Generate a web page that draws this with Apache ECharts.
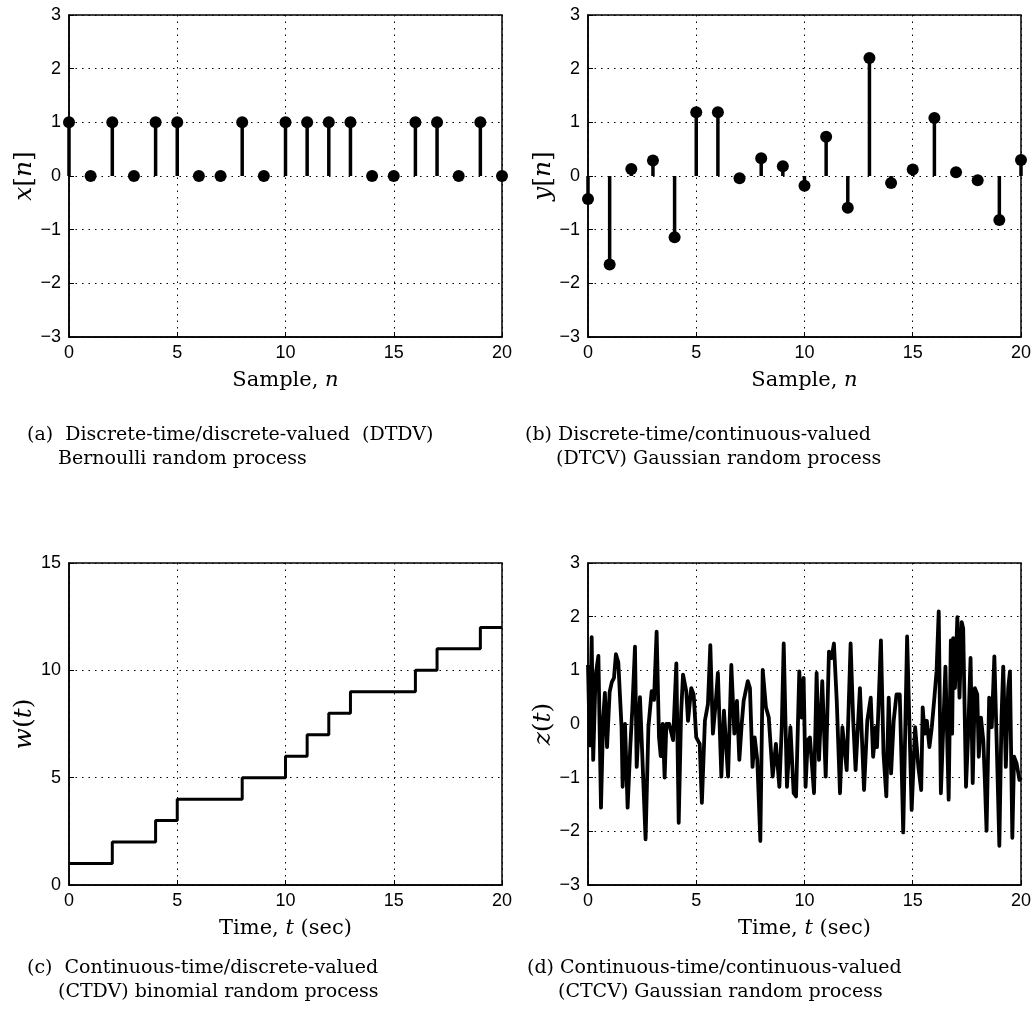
<!DOCTYPE html>
<html><head><meta charset="utf-8">
<script src="https://cdn.jsdelivr.net/npm/echarts@6/dist/echarts.min.js"></script>
<style>html,body{margin:0;padding:0;background:#fff}#c{width:1034px;height:1034px}</style>
</head><body><div id="c"></div>
<script>
// Panel (a): Bernoulli DTDV
const nSamples = [0,1,2,3,4,5,6,7,8,9,10,11,12,13,14,15,16,17,18,19,20];
const xVals = [1,0,1,0,1,1,0,0,1,0,1,1,1,1,0,0,1,1,0,1,0];
// Panel (b): Gaussian DTCV
const yVals = [-0.43,-1.65,0.13,0.29,-1.14,1.19,1.19,-0.04,0.33,0.18,-0.18,0.73,-0.59,2.2,-0.13,0.12,1.08,0.07,-0.08,-0.82,0.3];
// Panel (c): binomial CTDV (step times and levels)
const wTimes = [0,2,4,5,8,10,11,12,13,16,17,19,20];
const wVals  = [1,2,3,4,5,6,7,8,9,10,11,12,12];
// Panel (d): Gaussian CTCV (traced turning points)
const zTimes = [
0,0.08,0.17,0.24,0.35,0.48,0.6,0.7,0.78,0.88,
1.0,1.1,1.2,1.29,1.4,1.55,1.6,1.71,1.83,1.95,
2.05,2.17,2.25,2.4,2.5,2.66,2.79,2.94,3.05,3.17,
3.28,3.36,3.45,3.54,3.62,3.75,3.93,4.08,4.19,4.3,
4.39,4.54,4.62,4.77,4.88,5.0,5.16,5.26,5.4,5.54,
5.65,5.77,5.9,6.0,6.16,6.28,6.47,6.62,6.76,6.88,
6.99,7.1,7.19,7.38,7.48,7.6,7.7,7.82,7.96,8.07,
8.22,8.35,8.53,8.68,8.84,8.95,9.04,9.19,9.35,9.5,
9.61,9.76,9.87,9.96,10.05,10.15,10.25,10.44,10.56,10.67,
10.82,10.98,11.13,11.25,11.36,11.49,11.64,11.75,11.95,12.13,
12.25,12.36,12.56,12.75,12.9,13.06,13.17,13.29,13.35,13.53,
13.65,13.78,13.89,14.0,14.12,14.25,14.4,14.48,14.56,14.74,
14.85,14.95,15.11,15.26,15.39,15.46,15.55,15.65,15.77,15.88,
16.0,16.1,16.2,16.3,16.42,16.51,16.66,16.76,16.82,16.87,
16.95,17.06,17.16,17.26,17.33,17.46,17.56,17.67,17.77,17.87,
17.98,18.05,18.15,18.26,18.33,18.41,18.53,18.65,18.77,18.88,
19.0,19.1,19.18,19.3,19.41,19.49,19.6,19.68,19.8,19.93,
20.0];
const zVals = [
1.1,-0.4,1.62,-0.67,0.9,1.27,-1.56,0.1,0.58,-0.43,
0.6,0.78,0.86,1.3,1.15,-0.06,-1.17,0.0,-1.56,-0.45,
0.3,1.44,-0.8,0.5,-0.5,-2.15,-0.06,0.61,0.45,1.72,
-0.25,-0.6,0.0,-1.0,0.0,0.0,-0.3,1.13,-1.84,0.2,
0.92,0.61,0.06,0.67,0.55,-0.25,-0.37,-1.47,0.06,0.37,
1.47,-0.18,0.4,0.95,-0.98,0.25,-0.98,1.1,-0.18,0.43,
-0.67,0.0,0.43,0.8,0.67,-0.8,-0.25,-0.67,-2.18,1.01,
0.31,0.12,-0.98,-0.37,-1.17,-0.06,1.5,-1.17,-0.06,-1.29,
-1.35,0.98,0.12,0.86,-1.17,-0.3,-0.25,-1.29,0.95,-0.67,
0.8,-0.98,1.35,1.23,1.5,0.43,-1.29,-0.06,-0.86,1.5,
0.06,-0.86,0.67,-1.23,0.06,0.49,-0.61,-0.06,-0.43,1.56,
-0.55,-1.35,0.49,-0.92,0.06,0.55,0.55,-0.67,-2.02,1.63,
-0.06,-1.6,-0.06,-0.8,-1.23,0.31,-0.18,0.06,-0.43,-0.06,
0.49,0.98,2.1,-1.29,0.06,1.07,-1.41,1.56,-0.18,1.6,
0.67,1.99,0.49,1.9,1.78,-1.17,-0.18,1.23,-1.1,0.67,
0.55,-0.61,0.12,-0.31,-1.04,-1.99,0.49,-0.06,1.26,-0.37,
-2.27,0.12,1.07,-0.8,0.67,0.98,-2.12,-0.61,-0.74,-1.04,
-1.0];
// Tick definitions
const xTicks = {min:0, max:20, interval:5};
const yTicksSym = {min:-3, max:3, interval:1};
const yTicksW = {min:0, max:15, interval:5};
// Captions
const captions = [
  ["(a)  Discrete-time/discrete-valued  (DTDV)", "Bernoulli random process"],
  ["(b) Discrete-time/continuous-valued", "(DTCV) Gaussian random process"],
  ["(c)  Continuous-time/discrete-valued", "(CTDV) binomial random process"],
  ["(d) Continuous-time/continuous-valued", "(CTCV) Gaussian random process"]
];

const chart = echarts.init(document.getElementById('c'), null, {renderer:'canvas'});
const SANS = 'Liberation Sans';
const SERIF = 'DejaVu Serif';
const grids = [
  {left:69, top:15, width:433, height:322},
  {left:588, top:15, width:433, height:322},
  {left:69, top:563, width:433, height:322},
  {left:588, top:563, width:433, height:322}
].map(g => Object.assign(g, {show:true, borderColor:'#000', borderWidth:1.5, containLabel:false}));

const minusFmt = v => String(v).replace('-', '\u2212');
const dotted = {show:true, lineStyle:{color:'#000', type:[1.5,5], width:1}};

function xAx(gi, nameStr){
  return Object.assign({type:'value', gridIndex:gi, name:nameStr, nameLocation:'middle', nameGap:33,
    nameTextStyle:{fontFamily:SERIF, fontSize:21, color:'#000',
      rich:{i:{fontFamily:SERIF, fontStyle:'italic', fontSize:21, color:'#000'}}},
    axisLine:{show:true, onZero:false, lineStyle:{color:'#000', width:1.5}},
    axisTick:{show:true, inside:true, length:5, lineStyle:{color:'#000'}},
    axisLabel:{fontFamily:SANS, fontSize:18, color:'#000', margin:7, formatter:minusFmt},
    splitLine:dotted}, xTicks);
}
function yAx(gi, nameStr, ticks){
  return Object.assign({type:'value', gridIndex:gi, name:nameStr, nameLocation:'middle', nameGap:30, nameRotate:90,
    nameTextStyle:{fontFamily:SERIF, fontSize:25, color:'#000',
      rich:{i:{fontFamily:SERIF, fontStyle:'italic', fontSize:25, color:'#000'}}},
    axisLine:{show:true, onZero:false, lineStyle:{color:'#000', width:1.5}},
    axisTick:{show:true, inside:true, length:5, lineStyle:{color:'#000'}},
    axisLabel:{fontFamily:SANS, fontSize:18, color:'#000', margin:8, formatter:minusFmt},
    splitLine:dotted}, ticks);
}

const stemData = (ys) => nSamples.map((n,i) => [n, ys[i]]);

const graphics = [];
const capPos = [[27,437],[525,437],[27,970],[527,970]];
captions.forEach((c, i) => {
  graphics.push({type:'text', left:capPos[i][0], top:capPos[i][1]-11,
    style:{text:c[0], font:'19px "DejaVu Serif"', fill:'#000'}});
  graphics.push({type:'text', left:capPos[i][0]+31, top:capPos[i][1]+13,
    style:{text:c[1], font:'19px "DejaVu Serif"', fill:'#000'}});
});

chart.setOption({
  animation:false,
  backgroundColor:'#fff',
  grid:grids,
  xAxis:[
    xAx(0,'Sample, {i|n}'), xAx(1,'Sample, {i|n}'),
    xAx(2,'Time, {i|t} (sec)'), xAx(3,'Time, {i|t} (sec)')
  ],
  yAxis:[
    yAx(0,'{i|x}[{i|n}]', yTicksSym), yAx(1,'{i|y}[{i|n}]', yTicksSym),
    yAx(2,'{i|w}({i|t})', yTicksW), yAx(3,'{i|z}({i|t})', yTicksSym)
  ],
  series:[
    {type:'bar', xAxisIndex:0, yAxisIndex:0, data:stemData(xVals), barWidth:3.5, itemStyle:{color:'#000'}},
    {type:'scatter', xAxisIndex:0, yAxisIndex:0, data:stemData(xVals), symbolSize:12, itemStyle:{color:'#000', opacity:1}},
    {type:'bar', xAxisIndex:1, yAxisIndex:1, data:stemData(yVals), barWidth:3.5, itemStyle:{color:'#000'}},
    {type:'scatter', xAxisIndex:1, yAxisIndex:1, data:stemData(yVals), symbolSize:12, itemStyle:{color:'#000', opacity:1}},
    {type:'line', xAxisIndex:2, yAxisIndex:2, step:'end', showSymbol:false,
      data:wTimes.map((t,i)=>[t,wVals[i]]), lineStyle:{color:'#000', width:3}},
    {type:'line', xAxisIndex:3, yAxisIndex:3, showSymbol:false,
      data:zTimes.map((t,i)=>[t,zVals[i]]), lineStyle:{color:'#000', width:3.8, join:'round'}}
  ],
  graphic:graphics
});
</script></body></html>
